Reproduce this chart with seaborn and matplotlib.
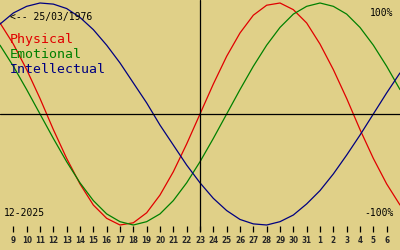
import matplotlib
matplotlib.use("Agg")
import matplotlib.pyplot as plt
import seaborn as sns
import pandas as pd

# Day labels (Dec 8 2025 .. Jan 7 2026), centre = Dec 23
days = [8, 9, 10, 11, 12, 13, 14, 15, 16, 17, 18, 19, 20, 21, 22, 23,
        24, 25, 26, 27, 28, 29, 30, 31, 1, 2, 3, 4, 5, 6, 7]
tick_labels = [str(d) for d in days]

physical = [0.82, 0.63, 0.40, 0.14, -0.14, -0.40, -0.63, -0.82, -0.94, -1.00,
            -0.98, -0.89, -0.73, -0.52, -0.27, 0.00, 0.27, 0.52, 0.73, 0.89,
            0.98, 1.00, 0.94, 0.82, 0.63, 0.40, 0.14, -0.14, -0.40, -0.63, -0.82]
emotional = [0.62, 0.43, 0.22, 0.00, -0.22, -0.43, -0.62, -0.78, -0.90, -0.97,
             -1.00, -0.97, -0.90, -0.78, -0.62, -0.43, -0.22, 0.00, 0.22, 0.43,
             0.62, 0.78, 0.90, 0.97, 1.00, 0.97, 0.90, 0.78, 0.62, 0.43, 0.22]
intellectual = [0.81, 0.91, 0.97, 1.00, 0.99, 0.95, 0.87, 0.76, 0.62, 0.46,
                0.28, 0.10, -0.10, -0.28, -0.46, -0.62, -0.76, -0.87, -0.95, -0.99,
                -1.00, -0.97, -0.91, -0.81, -0.69, -0.54, -0.37, -0.19, 0.00, 0.19, 0.37]

series_names = ["Physical", "Emotional", "Intellectual"]
colors = ["#e00000", "#008000", "#000080"]
bg = "#e0d088"

idx = list(range(len(days)))
df = pd.DataFrame({
    "x": idx * 3,
    "v": physical + emotional + intellectual,
    "s": [series_names[0]] * len(idx) + [series_names[1]] * len(idx) + [series_names[2]] * len(idx),
})

sns.set_style("white")
plt.rcParams["font.family"] = ["DejaVu Sans Mono", "DejaVu Sans"]

fig = plt.figure(figsize=(4, 2.5), dpi=100)
fig.patch.set_facecolor(bg)
ax = fig.add_axes([0, 0.096, 1, 0.904])
ax.set_facecolor(bg)

sns.lineplot(data=df, x="x", y="v", hue="s", palette=dict(zip(series_names, colors)),
             linewidth=0.9, legend=False, ax=ax, clip_on=False)

ax.set_xlim(0, len(days) - 1)
ax.set_ylim(-1.009, 1.027)
ax.axhline(0, color="black", linewidth=0.9)
ax.axvline(15, ymin=-0.02, ymax=1, color="black", linewidth=0.9, clip_on=False)

for sp in ax.spines.values():
    sp.set_visible(False)
ax.set_yticks([])
ax.set_xticks(idx[1:-1])
ax.set_xticklabels(tick_labels[1:-1], fontsize=5.8, fontweight="bold",
                   family="DejaVu Sans", fontstretch="condensed")
ax.tick_params(axis="x", direction="out", length=4, width=0.9, color="black", pad=3, bottom=True)
ax.set_xlabel("")
ax.set_ylabel("")

fig.text(0.025, 0.92, "<-- 25/03/1976", fontsize=7, color="black", va="baseline")
for name, c, yb in zip(series_names, colors, [0.829, 0.767, 0.707]):
    fig.text(0.025, yb, name, fontsize=9.5, color=c, va="baseline")
fig.text(0.9825, 0.936, "100%", fontsize=7, color="black", va="baseline", ha="right")
fig.text(0.985, 0.136, "-100%", fontsize=7, color="black", va="baseline", ha="right")
fig.text(0.01, 0.136, "12-2025", fontsize=7, color="black", va="baseline")

fig.savefig("out.png", dpi=100, facecolor=bg)
